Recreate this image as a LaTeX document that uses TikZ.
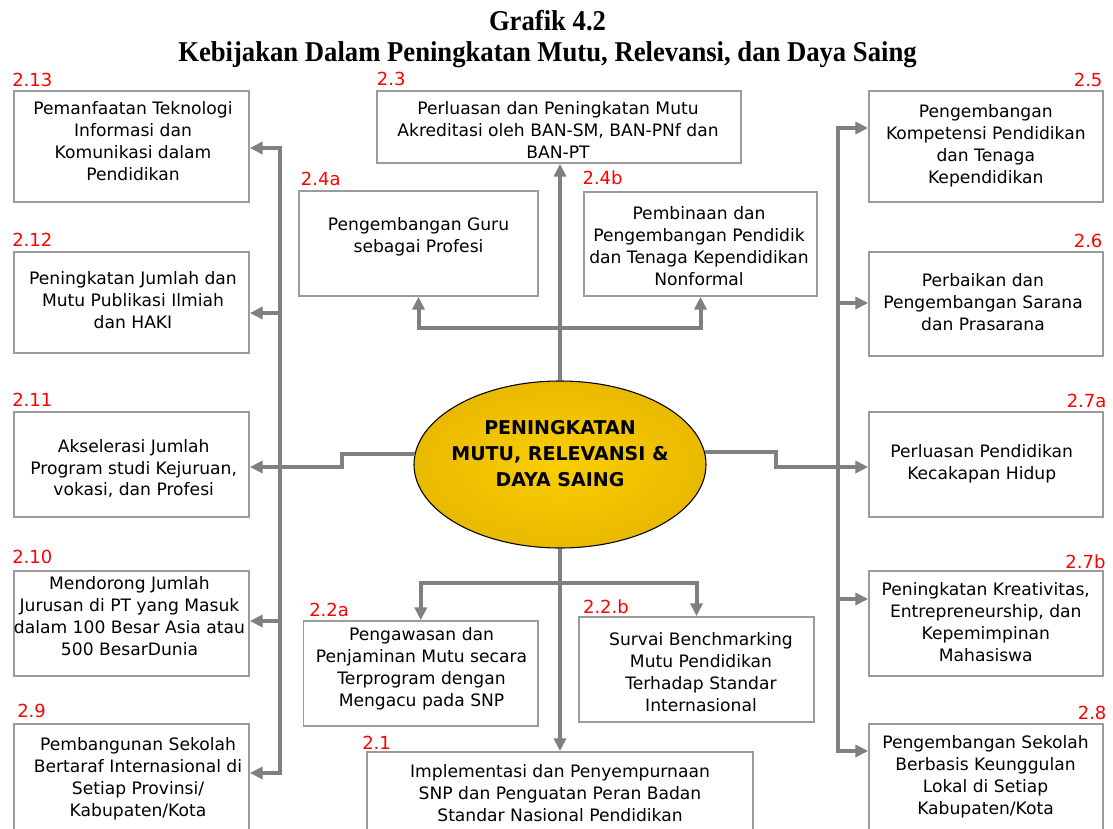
\documentclass[tikz,border=0pt]{standalone}
\usepackage{fontspec}
\setmainfont{DejaVu Sans}
\newfontfamily\titlefont{Liberation Serif}
\usetikzlibrary{arrows.meta,shapes.geometric,fit}
\definecolor{linegray}{RGB}{128,128,128}
\definecolor{boxgray}{RGB}{155,155,155}
\definecolor{labred}{RGB}{255,0,0}
\definecolor{goldin}{RGB}{250,206,0}
\definecolor{goldmid}{RGB}{235,188,0}
\definecolor{goldout}{RGB}{205,160,0}
\pgfdeclareradialshading{goldshade}{\pgfpoint{0bp}{0bp}}{color(0bp)=(goldin); color(22bp)=(goldmid); color(50bp)=(goldout)}
\begin{document}
\begin{tikzpicture}[x=0.75pt,y=-0.75pt,
  box/.style={draw=boxgray, line width=1.3pt, inner sep=0pt, fill=white},
  txt/.style={align=center, font=\fontsize{12.85}{16.4}\selectfont, inner sep=0pt},
  lab/.style={text=labred, font=\fontsize{13.5}{16}\selectfont, inner sep=0pt},
  conn/.style={draw=linegray, line width=3pt, -{Triangle[length=9.5pt,width=9pt]}},
  bus/.style={draw=linegray, line width=3pt, line cap=rect},
  ttl/.style={font=\titlefont\bfseries\fontsize{21.5}{26}\selectfont, anchor=base, inner sep=0pt},
]
\useasboundingbox (0,0) rectangle (1113,828);
\fill[white] (0,0) rectangle (1113,828);
\clip (0,0) rectangle (1113,828);

% title
\node[ttl] (title1) at (547.5,31) {\scalebox{0.93}[1]{Grafik 4.2}};
\node[ttl] (title2) at (547.5,61.5) {\scalebox{0.93}[1]{Kebijakan Dalam Peningkatan Mutu, Relevansi, dan Daya Saing}};

% boxes
\node[box, fit={(14,91) (249,202)}] (b213) {};
\node[box, fit={(14,252) (249,353)}] (b212) {};
\node[box, fit={(14,412) (249,517)}] (b211) {};
\node[box, fit={(14,571) (249,676)}] (b210) {};
\node[box, fit={(14,724) (249,834)}] (b29) {};
\node[box, fit={(377,91) (741,163)}] (b23) {};
\node[box, fit={(299,191) (538,296)}] (b24a) {};
\node[box, fit={(584,192) (817,296)}] (b24b) {};
\node[box, fit={(869,91) (1103,202)}] (b25) {};
\node[box, fit={(869,252) (1103,356)}] (b26) {};
\node[box, fit={(869,412) (1103,517)}] (b27a) {};
\node[box, fit={(869,571) (1103,676)}] (b27b) {};
\node[box, fit={(869,724) (1103,830)}] (b28) {};
\node[box, fit={(303.5,621) (538,726)}] (b22a) {};
\node[box, fit={(579,617) (814,722)}] (b22b) {};
\node[box, fit={(367,752) (753,835)}] (b21) {};

% texts
\node[txt] (t213) at (133,141) {Pemanfaatan Teknologi\\Informasi dan\\Komunikasi dalam\\Pendidikan};
\node[txt] (t212) at (133,300) {Peningkatan Jumlah dan\\Mutu Publikasi Ilmiah\\dan HAKI};
\node[txt] (t211) at (133.7,468.5) {Akselerasi Jumlah\\Program studi Kejuruan,\\vokasi, dan Profesi};
\node[txt] (t210) at (129.5,616) {Mendorong Jumlah\\Jurusan di PT yang Masuk\\dalam 100 Besar Asia atau\\500 BesarDunia};
\node[txt] (t29) at (138,779) {Pembangunan Sekolah\\Bertaraf Internasional di\\Setiap Provinsi/\\Kabupaten/Kota};
\node[txt] (t23) at (558,130) {Perluasan dan Peningkatan Mutu\\Akreditasi oleh BAN-SM, BAN-PNf dan\\BAN-PT};
\node[txt] (t24a) at (418.5,237) {Pengembangan Guru\\sebagai Profesi};
\node[txt] (t24b) at (699,246) {Pembinaan dan\\Pengembangan Pendidik\\dan Tenaga Kependidikan\\Nonformal};
\node[txt] (t25) at (985.8,146) {Pengembangan\\Kompetensi Pendidikan\\dan Tenaga\\Kependidikan};
\node[txt] (t26) at (983,302) {Perbaikan dan\\Pengembangan Sarana\\dan Prasarana};
\node[txt] (t27a) at (981.7,463.5) {Perluasan Pendidikan\\Kecakapan Hidup};
\node[txt] (t27b) at (985.8,622) {Peningkatan Kreativitas,\\Entrepreneurship, dan\\Kepemimpinan\\Mahasiswa};
\node[txt] (t28) at (985.5,777) {Pengembangan Sekolah\\Berbasis Keunggulan\\Lokal di Setiap\\Kabupaten/Kota};
\node[txt] (t22a) at (421.5,669) {Pengawasan dan\\Penjaminan Mutu secara\\Terprogram dengan\\Mengacu pada SNP};
\node[txt] (t22b) at (701,672) {Survai Benchmarking\\Mutu Pendidikan\\Terhadap Standar\\Internasional};
\node[txt] (t21) at (560,793) {Implementasi dan Penyempurnaan\\SNP dan Penguatan Peran Badan\\Standar Nasional Pendidikan};

% labels
\node[lab, anchor=west] (l213) at (12,80) {2.13};
\node[lab, anchor=west] (l212) at (12,240) {2.12};
\node[lab, anchor=west] (l211) at (12,400) {2.11};
\node[lab, anchor=west] (l210) at (12,557) {2.10};
\node[lab, anchor=west] (l29) at (17,710.5) {2.9};
\node[lab, anchor=west] (l23) at (376.7,79) {2.3};
\node[lab, anchor=west] (l24a) at (300.7,179) {2.4a};
\node[lab, anchor=west] (l24b) at (582.3,177.5) {2.4b};
\node[lab, anchor=east] (l25) at (1102.7,80) {2.5};
\node[lab, anchor=east] (l26) at (1102.7,241) {2.6};
\node[lab, anchor=east] (l27a) at (1106.7,401) {2.7a};
\node[lab, anchor=east] (l27b) at (1105.7,561.7) {2.7b};
\node[lab, anchor=east] (l28) at (1106.7,712.7) {2.8};
\node[lab, anchor=west] (l22a) at (309,610) {2.2a};
\node[lab, anchor=west] (l22b) at (582.8,606.7) {2.2.b};
\node[lab, anchor=west] (l21) at (362,743) {2.1};

% central ellipse
\node[ellipse, draw=black, line width=0.8pt, minimum width=219pt, minimum height=125.25pt,
      shading=goldshade] (ell) at (560,464.5) {};
\node[font=\bfseries\fontsize{14.25}{19.5}\selectfont, align=center, inner sep=0pt] (tell) at (560,454)
  {PENINGKATAN\\MUTU, RELEVANSI \&\\DAYA SAING};

% top connectors
\draw[conn] (ell.north) -- (ell.north |- b23.south);
\coordinate (tj) at (560,328);
\draw[conn] (tj) -| (b24a.south);
\draw[conn] (tj) -| (b24b.south);

% bottom connectors
\draw[conn] (ell.south) -- (ell.south |- b21.north);
\coordinate (bj) at (560,583);
\draw[conn] (bj) -| (b22a.north);
\draw[conn] (bj) -| (b22b.north);

% left bus
\coordinate (lb1) at (280,148);
\coordinate (lb2) at (280,313);
\coordinate (lb4) at (280,621);
\coordinate (lb5) at (280,773);
\draw[bus] (lb1) -- (lb5);
\draw[conn] (lb1) -- (lb1 -| b213.east);
\draw[conn] (lb2) -- (lb2 -| b212.east);
\draw[conn] (lb4) -- (lb4 -| b210.east);
\draw[conn] (lb5) -- (lb5 -| b29.east);
\coordinate (ls) at (342,467);
\draw[conn] (ell.176.7) -| (ls) -- (ls -| b211.east);

% right bus
\coordinate (rb1) at (838,128);
\coordinate (rb2) at (838,303);
\coordinate (rb4) at (838,599);
\coordinate (rb5) at (838,751);
\draw[bus] (rb1) -- (rb5);
\draw[conn] (rb1) -- (rb1 -| b25.west);
\draw[conn] (rb2) -- (rb2 -| b26.west);
\draw[conn] (rb4) -- (rb4 -| b27b.west);
\draw[conn] (rb5) -- (rb5 -| b28.west);
\coordinate (rs) at (776,467);
\draw[conn] (ell.5.7) -| (rs) -- (rs -| b27a.west);
\end{tikzpicture}
\end{document}
